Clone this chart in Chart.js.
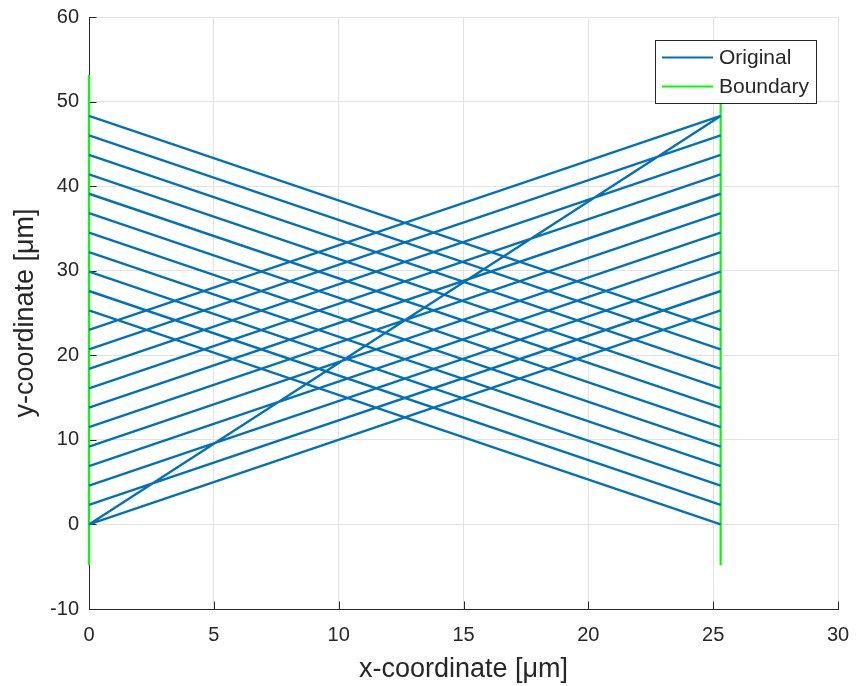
<!DOCTYPE html>
<html>
<head>
<meta charset="utf-8">
<script src="https://cdn.jsdelivr.net/npm/chart.js@4"></script>
<style>
  html, body { margin: 0; padding: 0; background: #ffffff; }
  #wrap { width: 856px; height: 686px; }
</style>
</head>
<body>
<div id="wrap"><canvas id="rayChart" width="856" height="686"></canvas></div>
<script>
// --- Data ---
const xLeft = 0;
const xRight = 25.3;
const risingLeftY = [0, 2.3, 4.6, 6.9, 9.2, 11.5, 13.8, 16.1, 18.4, 20.7, 23.0];
const risingRightY = [25.3, 27.6, 29.9, 32.2, 34.5, 36.8, 39.1, 41.4, 43.7, 46.0, 48.3];
const fallingLeftY = [48.3, 46.0, 43.7, 41.4, 39.1, 36.8, 34.5, 32.2, 29.9, 27.6, 25.3];
const fallingRightY = [23.0, 20.7, 18.4, 16.1, 13.8, 11.5, 9.2, 6.9, 4.6, 2.3, 0];
const diagonalY = [0, 48.3];
const boundaryY = [-4.83, 53.13];
const xTicks = [0, 5, 10, 15, 20, 25, 30];
const yTicks = [-10, 0, 10, 20, 30, 40, 50, 60];

const BLUE = '#0072BD';
const GREEN = '#00FF00';
const AXIS = '#262626';
const GRID = '#e2e2e2';
const FONT = "'Liberation Sans', Arial, Helvetica, sans-serif";

// "Original" path: rising segments, falling segments and the long diagonal,
// joined into one dataset with gaps between the pieces
function buildOriginal() {
    const pts = [];
    const addSeg = (y0, y1) => {
        pts.push({ x: xLeft, y: y0 }, { x: xRight, y: y1 }, { x: xRight, y: null });
    };
    risingLeftY.forEach((y, i) => addSeg(y, risingRightY[i]));
    fallingLeftY.forEach((y, i) => addSeg(y, fallingRightY[i]));
    addSeg(diagonalY[0], diagonalY[1]);
    return pts;
}

const boundaryPts = [
    { x: xLeft, y: boundaryY[0] }, { x: xLeft, y: boundaryY[1] }, { x: xLeft, y: null },
    { x: xRight, y: boundaryY[0] }, { x: xRight, y: boundaryY[1] }
];

// inward tick marks on the left and bottom axes
const inwardTicks = {
    id: 'inwardTicks',
    beforeDatasetsDraw(chart) {
        const { ctx, chartArea, scales } = chart;
        const len = 7.5;
        ctx.save();
        ctx.strokeStyle = AXIS;
        ctx.lineWidth = 1;
        ctx.beginPath();
        xTicks.forEach(v => {
            const px = Math.round(scales.x.getPixelForValue(v)) + 0.5;
            ctx.moveTo(px, chartArea.bottom);
            ctx.lineTo(px, chartArea.bottom - len);
        });
        yTicks.forEach(v => {
            const py = Math.round(scales.y.getPixelForValue(v)) + 0.5;
            ctx.moveTo(chartArea.left, py);
            ctx.lineTo(chartArea.left + len, py);
        });
        ctx.stroke();
        ctx.restore();
    }
};

// boxed legend in the upper right corner of the plot
const boxLegend = {
    id: 'boxLegend',
    afterDraw(chart) {
        const { ctx, chartArea } = chart;
        const w = 161, h = 63;
        const x0 = chartArea.right - 183, y0 = chartArea.top + 23;
        const items = chart.data.datasets.map(d => ({ label: d.label, color: d.borderColor }));
        ctx.save();
        ctx.fillStyle = '#ffffff';
        ctx.fillRect(x0, y0, w, h);
        ctx.strokeStyle = AXIS;
        ctx.lineWidth = 1;
        ctx.strokeRect(x0 + 0.5, y0 + 0.5, w, h);
        ctx.font = `21px ${FONT}`;
        ctx.textBaseline = 'middle';
        items.forEach((it, i) => {
            const cy = y0 + 17.5 + i * 29;
            ctx.strokeStyle = it.color;
            ctx.lineWidth = 2;
            ctx.beginPath();
            ctx.moveTo(x0 + 7, cy);
            ctx.lineTo(x0 + 58, cy);
            ctx.stroke();
            ctx.fillStyle = AXIS;
            ctx.fillText(it.label, x0 + 64, cy + 1);
        });
        ctx.restore();
    }
};

new Chart(document.getElementById('rayChart'), {
    type: 'scatter',
    data: {
        datasets: [
            {
                label: 'Original',
                data: buildOriginal(),
                showLine: true,
                borderColor: BLUE,
                borderWidth: 2.4,
                pointRadius: 0,
                spanGaps: false,
                clip: false
            },
            {
                label: 'Boundary',
                data: boundaryPts,
                showLine: true,
                borderColor: GREEN,
                borderWidth: 2.2,
                pointRadius: 0,
                spanGaps: false,
                clip: false
            }
        ]
    },
    options: {
        responsive: false,
        animation: false,
        layout: { padding: { top: 17, right: 18, left: 0, bottom: 0 } },
        plugins: {
            legend: { display: false },
            tooltip: { enabled: false }
        },
        scales: {
            x: {
                type: 'linear',
                min: 0,
                max: 30,
                afterBuildTicks: s => { s.ticks = xTicks.map(v => ({ value: v })); },
                afterFit: s => {
                    s.height = 77;
                    s.paddingLeft = 0;
                    s.paddingRight = 0;
                },
                ticks: { padding: 14, color: AXIS, font: { family: FONT, size: 20 } },
                grid: { color: GRID, drawTicks: false },
                border: { color: AXIS, width: 1 },
                title: {
                    display: true,
                    text: 'x-coordinate [μm]',
                    color: AXIS,
                    font: { family: FONT, size: 27 },
                    padding: { top: 0, bottom: 0 }
                }
            },
            y: {
                type: 'linear',
                min: -10,
                max: 60,
                afterBuildTicks: s => { s.ticks = yTicks.map(v => ({ value: v })); },
                afterFit: s => {
                    s.width = 89;
                    s.paddingTop = 0;
                    s.paddingBottom = 0;
                },
                ticks: { padding: 10, color: AXIS, font: { family: FONT, size: 20 } },
                grid: { color: GRID, drawTicks: false },
                border: { color: AXIS, width: 1 },
                title: {
                    display: true,
                    text: 'y-coordinate [μm]',
                    color: AXIS,
                    font: { family: FONT, size: 27 },
                    padding: { top: 9, bottom: 0 }
                }
            }
        }
    },
    plugins: [inwardTicks, boxLegend]
});
</script>
</body>
</html>
